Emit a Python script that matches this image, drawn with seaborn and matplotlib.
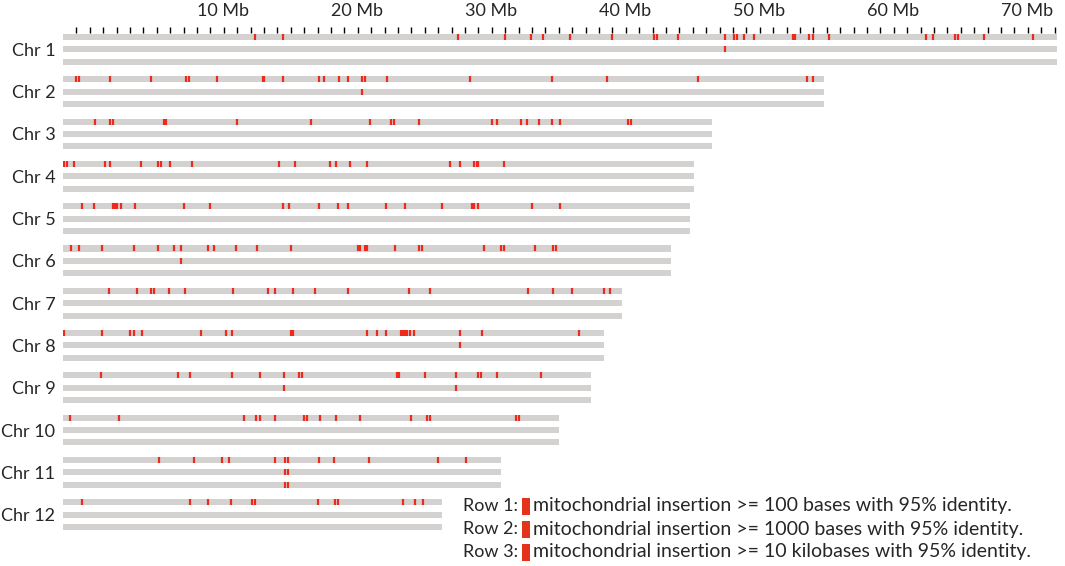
#Import the libraries : Pandas, Matplotlib and Seaborn
import pandas as pd
import matplotlib.pyplot as plt
import matplotlib.patches as mpatches
import seaborn as sns

#Chromosome names and lengths (Mb)
chrom_names = ['Chr 1', 'Chr 2', 'Chr 3', 'Chr 4', 'Chr 5', 'Chr 6',
               'Chr 7', 'Chr 8', 'Chr 9', 'Chr 10', 'Chr 11', 'Chr 12']
chrom_lengths = [74.2, 56.8, 48.4, 47.1, 46.8, 45.4, 41.7, 40.4, 39.4, 37.0, 32.7, 28.3]

#Insertion positions (Mb) per chromosome : [row 1 (>=100 b), row 2 (>=1 kb), row 3 (>=10 kb)]
chr1_hits = [[14.3, 16.4, 29.5, 33.0, 34.9, 35.8, 37.8, 41.0, 44.1, 44.3, 45.9, 49.4, 50.1,
              50.3, 50.8, 51.6, 54.5, 54.6, 55.7, 56.0, 57.2, 64.4, 64.9, 66.6, 66.8, 68.7, 72.4],
             [49.4], []]
chr2_hits = [[1.0, 1.2, 3.5, 6.6, 9.2, 9.4, 11.5, 14.9, 15.0, 16.4, 19.1, 19.5, 20.6, 21.3,
              22.3, 22.5, 24.2, 30.4, 36.5, 40.6, 47.4, 55.5, 56.0],
             [22.3], []]
chr3_hits = [[2.4, 3.5, 3.7, 7.5, 7.7, 13.0, 18.5, 22.9, 24.5, 24.7, 26.6, 32.0, 32.4, 34.2,
              34.6, 35.5, 36.5, 37.1, 42.2, 42.4],
             [], []]
chr4_hits = [[0.1, 0.3, 0.8, 3.1, 3.5, 5.8, 7.1, 7.3, 8.0, 9.6, 16.1, 17.3, 19.9, 20.4, 21.4,
              22.7, 28.9, 29.6, 30.7, 30.9, 31.0, 32.9],
             [], []]
chr5_hits = [[1.4, 2.3, 3.7, 3.8, 3.9, 4.0, 4.3, 5.4, 9.0, 11.0, 16.4, 16.9, 19.1, 20.5, 21.3,
              24.1, 25.5, 28.3, 30.5, 30.7, 31.0, 35.0, 37.1],
             [], []]
chr6_hits = [[0.6, 1.2, 2.9, 5.3, 7.1, 8.3, 8.8, 10.8, 11.3, 12.9, 14.5, 17.0, 22.0, 22.2,
              22.5, 22.7, 24.8, 26.6, 26.8, 31.4, 32.7, 32.9, 35.2, 36.6, 36.8],
             [8.8], []]
chr7_hits = [[3.4, 5.5, 6.6, 6.8, 7.9, 9.1, 12.7, 15.3, 15.8, 17.2, 18.8, 21.3, 25.8, 27.4,
              34.7, 36.6, 38.0, 40.4, 40.8],
             [], []]
chr8_hits = [[0.1, 2.9, 5.0, 5.3, 5.9, 10.3, 12.2, 12.6, 17.0, 17.2, 22.7, 23.4, 24.1, 25.2,
              25.35, 25.5, 25.65, 25.9, 26.2, 29.6, 31.3, 38.5],
             [29.6], []]
chr9_hits = [[2.8, 8.6, 9.5, 12.6, 14.7, 16.5, 17.6, 17.8, 24.9, 25.1, 27.0, 29.3, 31.0, 31.2,
              32.4, 35.7],
             [16.5, 29.3], []]
chr10_hits = [[0.5, 4.2, 13.5, 14.4, 14.7, 15.8, 18.0, 18.2, 19.2, 20.4, 22.2, 26.0, 27.2,
               27.4, 33.8, 34.0],
              [], []]
chr11_hits = [[7.2, 9.8, 11.9, 12.4, 15.8, 16.6, 16.8, 19.1, 20.2, 22.8, 28.0, 30.1],
              [16.6, 16.8], [16.6, 16.8]]
chr12_hits = [[1.4, 9.5, 10.8, 12.5, 14.1, 14.3, 19.0, 20.3, 20.5, 25.4, 26.3, 26.9],
              [], []]
all_hits = [chr1_hits, chr2_hits, chr3_hits, chr4_hits, chr5_hits, chr6_hits,
            chr7_hits, chr8_hits, chr9_hits, chr10_hits, chr11_hits, chr12_hits]

legend_rows = ['Row 1:', 'Row 2:', 'Row 3:']
legend_texts = ['mitochondrial insertion >= 100 bases with 95% identity.',
                'mitochondrial insertion >= 1000 bases with 95% identity.',
                'mitochondrial insertion >= 10 kilobases with 95% identity.']

#Styles
grey = '#d4d1d1'
red = '#ee2a1c'
row_step = 0.293
bar_h = 0.142

sns.set_theme(style='white')
plt.rcParams['font.family'] = ['Lato', 'DejaVu Sans']

#Build a table of hits
records = []
for ci, hits in enumerate(all_hits):
	for ri, row in enumerate(hits):
		for pos in row:
			records.append({'pos': pos, 'y': ci + ri * row_step})
hits_df = pd.DataFrame(records)

W, H = 1065, 566
fig = plt.figure(figsize=(W / 100, H / 100), dpi=100)
ax = fig.add_axes([63 / W, 0, 1 - 63 / W, (H - 33) / H])

#Grey chromosome bars
for ci, length in enumerate(chrom_lengths):
	for ri in range(3):
		ax.barh(ci + ri * row_step, length, left=0, height=bar_h, color=grey, linewidth=0)

#Red insertion marks
sns.scatterplot(data=hits_df, x='pos', y='y', marker='|', s=22, linewidth=1.6,
                color=red, ax=ax, legend=False, zorder=3)

ax.set_xlim(0, (W - 63) / 13.4)
ax.set_ylim((H - 37) / 42.3, -4 / 42.3)
ax.set_xlabel('')
ax.set_ylabel('')
for sp in ax.spines.values():
	sp.set_visible(False)

#Top axis : ticks every Mb, labels every 10 Mb
xt = list(range(1, 75))
ax.xaxis.tick_top()
ax.set_xticks(xt)
ax.set_xticklabels([f'{t} Mb' if t % 10 == 0 else '' for t in xt], fontsize=13)
for tl in ax.get_xticklabels():
	tl.set_ha('left')
ax.tick_params(axis='x', direction='out', length=4, width=1, color='black', pad=6, top=True)

ax.set_yticks([ci + row_step for ci in range(len(chrom_names))])
ax.set_yticklabels(chrom_names, fontsize=13)
ax.tick_params(axis='y', length=0, pad=5.5)

#Legend
for k in range(3):
	yy = 1 - (506 + 23 * k) / H
	fig.text(463 / W, yy, legend_rows[k], fontsize=13, va='center', ha='left')
	fig.patches.append(mpatches.Rectangle((522 / W, yy - 8.5 / H), 8 / W, 17 / H,
	                   transform=fig.transFigure, color='#e5321b', linewidth=0))
	fig.text(533 / W, yy, legend_texts[k], fontsize=14, va='center', ha='left')

fig.savefig('out.png', dpi=100)
